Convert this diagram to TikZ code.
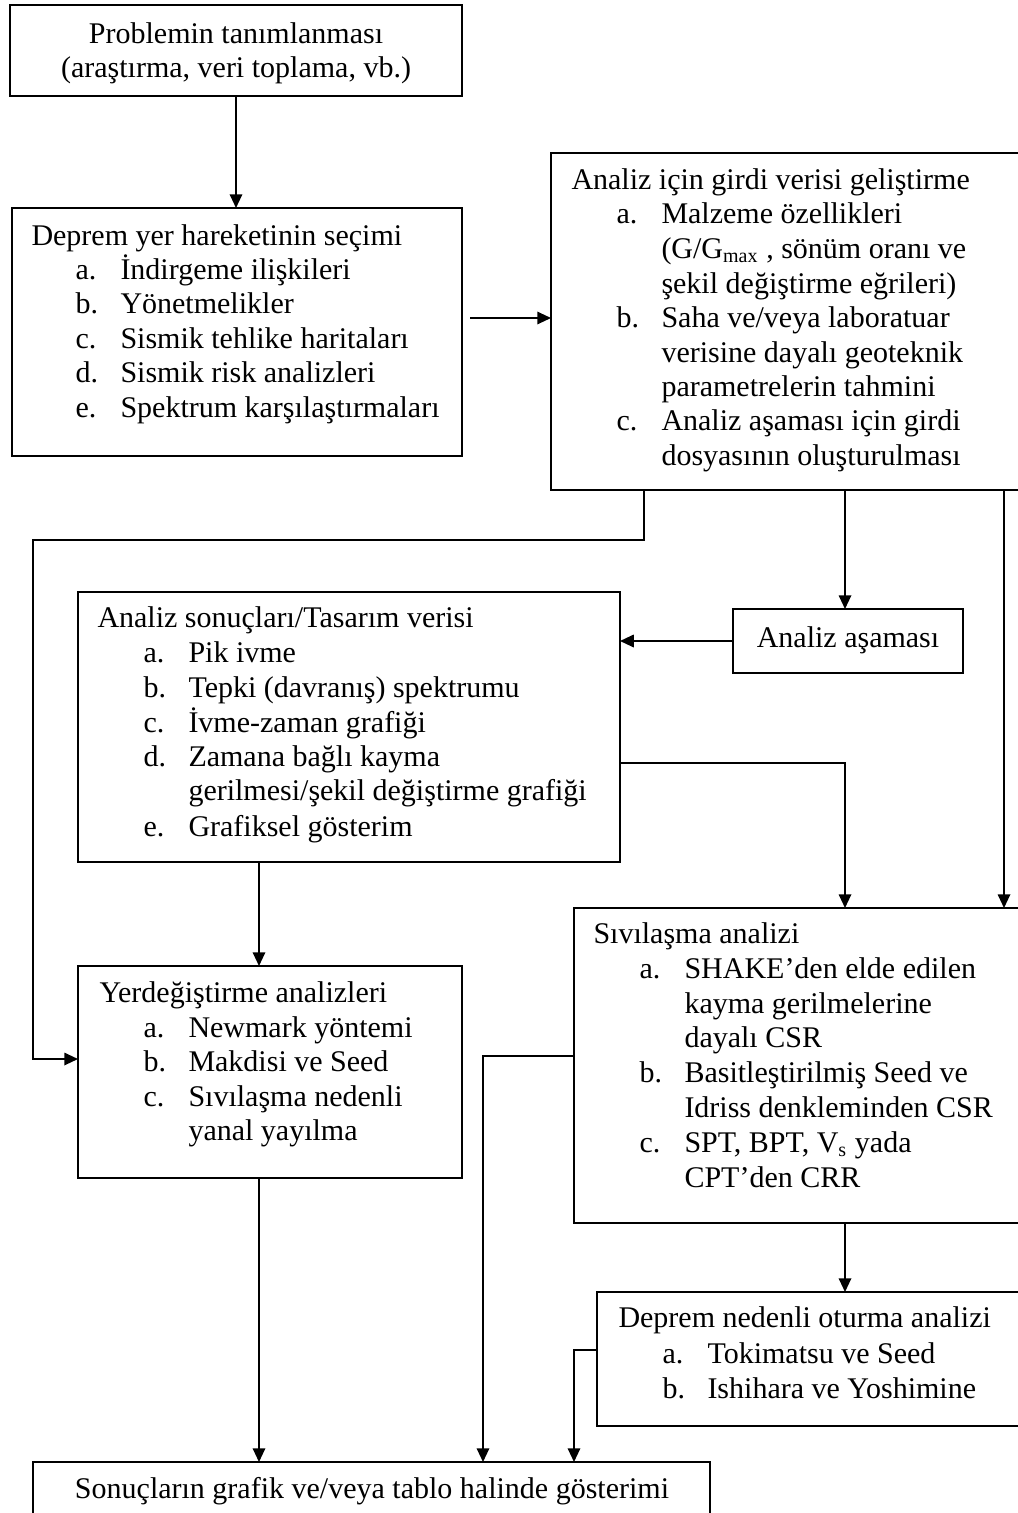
\documentclass[tikz,border=0pt]{standalone}
\usepackage{fontspec}
\setmainfont{Liberation Serif}
\usetikzlibrary{arrows.meta,fit}
\tikzset{
  box/.style={draw, line width=0.7pt, inner sep=0pt, outer sep=0pt, rectangle},
  arr/.style={line width=0.7pt, -{Triangle[length=5.5pt,width=5pt]}},
  txt/.style={anchor=base west, inner sep=0pt, font=\fontsize{12}{13.8}\selectfont},
  ctxt/.style={anchor=base, inner sep=0pt, font=\fontsize{12}{13.8}\selectfont},
}
\newcommand\tl[4]{\node[txt] (#1) at (#2,#3) {#4};}
\newcommand\itm[5]{\node[txt] (#1) at (#2,#3) {\makebox[18pt][l]{#4}#5};}
\begin{document}
\begin{tikzpicture}[x=0.4pt,y=-0.4pt]
\useasboundingbox (0,0) rectangle (1018,1513);
\clip (0,0) rectangle (1018,1513);

% boxes
\node[box, fit={(10,5) (462,96)}] (b1) {};
\node[box, fit={(12,208) (462,456)}] (b2) {};
\node[box, fit={(551,153) (1040,490)}] (b3) {};
\node[box, fit={(78,592) (620,862)}] (b4) {};
\node[box, fit={(733,609) (963,673)}] (b5) {};
\node[box, fit={(78,966) (462,1178)}] (b7) {};
\node[box, fit={(574,908) (1040,1223)}] (b8) {};
\node[box, fit={(597,1292) (1040,1426)}] (b9) {};
\node[box, fit={(33,1462) (710,1540)}] (b10) {};

% texts
\node[ctxt] (t1a) at (236,43) {Problemin tanımlanması};
\node[ctxt] (t1b) at (236,77) {(araştırma, veri toplama, vb.)};

\tl{t2}{31}{245}{Deprem yer hareketinin seçimi}
\itm{t2a}{75}{279}{a.}{İndirgeme ilişkileri}
\itm{t2b}{75}{313}{b.}{Yönetmelikler}
\itm{t2c}{75}{348}{c.}{Sismik tehlike haritaları}
\itm{t2d}{75}{382}{d.}{Sismik risk analizleri}
\itm{t2e}{75}{417}{e.}{Spektrum karşılaştırmaları}

\tl{t3}{571}{189}{Analiz için girdi verisi geliştirme}
\itm{t3a}{616}{223}{a.}{Malzeme özellikleri}
\tl{t3a2}{661}{258}{(G/G\textsubscript{max} , sönüm oranı ve}
\tl{t3a3}{661}{293}{şekil değiştirme eğrileri)}
\itm{t3b}{616}{327}{b.}{Saha ve/veya laboratuar}
\tl{t3b2}{661}{362}{verisine dayalı geoteknik}
\tl{t3b3}{661}{396}{parametrelerin tahmini}
\itm{t3c}{616}{430}{c.}{Analiz aşaması için girdi}
\tl{t3c2}{661}{465}{dosyasının oluşturulması}

\tl{t4}{97}{627}{Analiz sonuçları/Tasarım verisi}
\itm{t4a}{143}{662}{a.}{Pik ivme}
\itm{t4b}{143}{697}{b.}{Tepki (davranış) spektrumu}
\itm{t4c}{143}{732}{c.}{İvme-zaman grafiği}
\itm{t4d}{143}{766}{d.}{Zamana bağlı kayma}
\tl{t4d2}{188}{800}{gerilmesi/şekil değiştirme grafiği}
\itm{t4e}{143}{836}{e.}{Grafiksel gösterim}

\node[ctxt] (t5) at (848,647) {Analiz aşaması};

\tl{t7}{99}{1002}{Yerdeğiştirme analizleri}
\itm{t7a}{143}{1037}{a.}{Newmark yöntemi}
\itm{t7b}{143}{1071}{b.}{Makdisi ve Seed}
\itm{t7c}{143}{1106}{c.}{Sıvılaşma nedenli}
\tl{t7c2}{188}{1140}{yanal yayılma}

\tl{t8}{593}{943}{Sıvılaşma analizi}
\itm{t8a}{639}{978}{a.}{SHAKE'den elde edilen}
\tl{t8a2}{684}{1013}{kayma gerilmelerine}
\tl{t8a3}{684}{1047}{dayalı CSR}
\itm{t8b}{639}{1082}{b.}{Basitleştirilmiş Seed ve}
\tl{t8b2}{684}{1117}{Idriss denkleminden CSR}
\itm{t8c}{639}{1152}{c.}{SPT, BPT, V\textsubscript{s} yada}
\tl{t8c2}{684}{1187}{CPT'den CRR}

\tl{t9}{618}{1327}{Deprem nedenli oturma analizi}
\itm{t9a}{662}{1363}{a.}{Tokimatsu ve Seed}
\itm{t9b}{662}{1398}{b.}{Ishihara ve Yoshimine}

\node[ctxt] (t10) at (372,1498) {Sonuçların grafik ve/veya tablo halinde gösterimi};

% helper coordinates
\coordinate (s2) at (470,318);
\coordinate (k1) at (644,540);
\coordinate (k2) at (33,1059);
\coordinate (k3) at (1004,0);
\coordinate (k4) at (845,763);
\coordinate (k5) at (259,0);
\coordinate (k6) at (483,1056);
\coordinate (k7) at (574,1350);

% connectors
\draw[arr] (b1.south) -- (b2.north -| b1.south);
\draw[arr] (s2) -- (s2 -| b3.west);
\draw[arr] (b3.south -| k1) -- (k1) -- (k1 -| k2) -- (k2) -- (k2 -| b7.west);
\draw[arr] (b3.south -| k4) -- (b5.north -| k4);
\draw[arr] (b5.west) -- (b5.west -| b4.east);
\draw[arr] (b3.south -| k3) -- (b8.north -| k3);
\draw[arr] (k4 -| b4.east) -- (k4) -- (k4 |- b8.north);
\draw[arr] (b4.south -| k5) -- (b7.north -| k5);
\draw[arr] (b7.south -| k5) -- (b10.north -| k5);
\draw[arr] (k6 -| b8.west) -- (k6) -- (k6 |- b10.north);
\draw[arr] (b8.south -| k4) -- (b9.north -| k4);
\draw[arr] (k7 -| b9.west) -- (k7) -- (k7 |- b10.north);
\end{tikzpicture}
\end{document}
